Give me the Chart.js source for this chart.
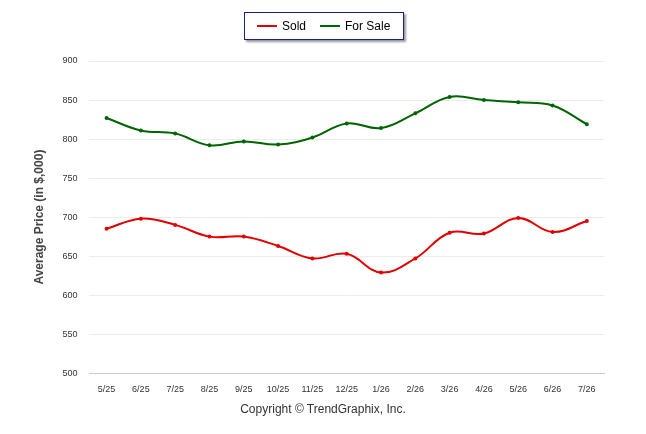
<!DOCTYPE html>
<html>
<head>
<meta charset="utf-8">
<script src="https://cdn.jsdelivr.net/npm/chart.js@4"></script>
<style>
  body { margin: 0; background: #fff; font-family: "Liberation Sans", Arial, sans-serif; }
  #wrap { position: relative; width: 646px; height: 434px; }
  #legend { position: absolute; left: 244px; top: 12px; width: 158px; height: 26px; border: 1px solid #1a237e;
    box-shadow: 2px 2px 2px #999; background: #fff; font-size: 12px; display: flex; align-items: center; }
  #legend span.l { display: inline-block; width: 20px; height: 2px; margin: 0 5px 0 12px; vertical-align: middle; }
  #copy { position: absolute; top: 402px; width: 646px; text-align: center; font-size: 12px; color: #333; }
</style>
</head>
<body>
<div id="wrap">
  <canvas id="c" width="646" height="434"></canvas>
  <div id="legend"><span class="l" style="background:#e00000"></span>Sold<span class="l" style="background:#006400;margin-left:14px"></span>For Sale</div>
  <div id="copy">Copyright © TrendGraphix, Inc.</div>
</div>
<script>
// months on the x axis
const labels = ['5/25','6/25','7/25','8/25','9/25','10/25','11/25','12/25','1/26','2/26','3/26','4/26','5/26','6/26','7/26'];
// average prices in $000
const sold = [685, 698, 690, 675, 675, 663, 647, 653, 629, 647, 680, 679, 699, 681, 695];
const forSale = [827, 811, 807, 792, 797, 793, 802, 820, 814, 833, 854, 850, 847, 843, 819];

new Chart(document.getElementById('c'), {
    type: 'line',
    data: {
        labels: labels,
        datasets: [{
            label: 'Sold',
            data: sold,
            borderColor: '#e00000',
            borderWidth: 2,
            pointRadius: 1,
            pointBackgroundColor: '#e00000',
            tension: 0.4
        }, {
            label: 'For Sale',
            data: forSale,
            borderColor: '#006400',
            borderWidth: 2,
            pointRadius: 1,
            pointBackgroundColor: '#006400',
            tension: 0.4
        }]
    },
    options: {
        responsive: false,
        animation: false,
        layout: { padding: { top: 61, right: 42, bottom: 36, left: 28 } },
        plugins: { legend: { display: false }, tooltip: { enabled: false } },
        scales: {
            y: {
                min: 500, max: 900,
                ticks: { stepSize: 50, color: '#333', font: { size: 9 }, padding: 12 },
                grid: { color: '#ececec', drawTicks: false },
                border: { display: false },
                title: { display: true, text: 'Average Price (in $,000)', color: '#444', font: { size: 12, weight: 'bold' } }
            },
            x: {
                offset: true,
                ticks: { color: '#333', font: { size: 9 }, maxRotation: 0 },
                grid: { display: false },
                border: { color: '#ccc' }
            }
        }
    }
});
</script>
</body>
</html>
